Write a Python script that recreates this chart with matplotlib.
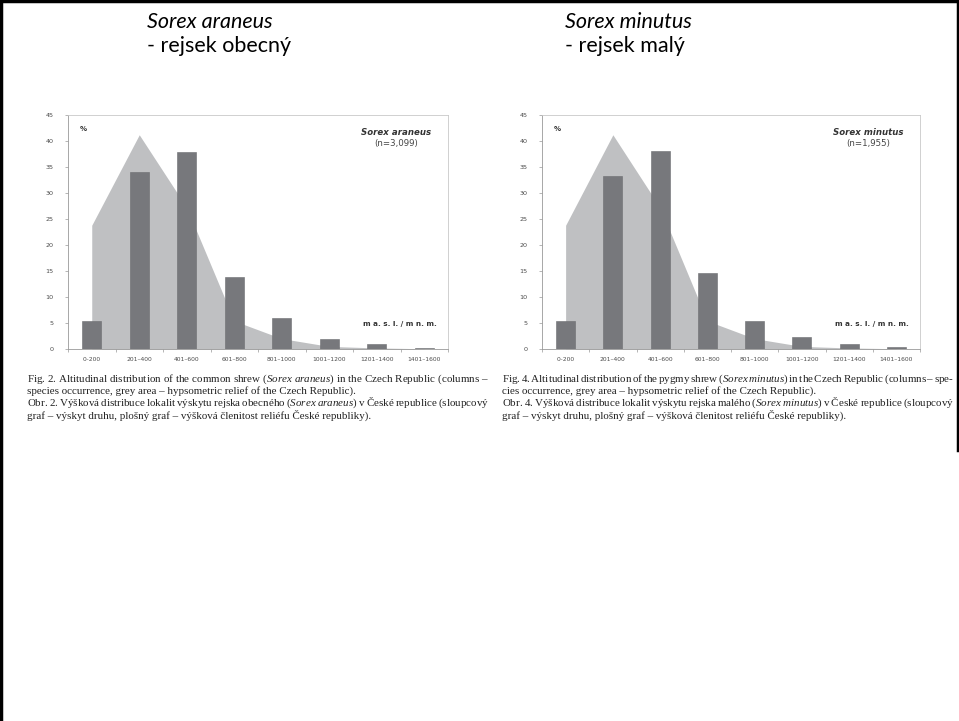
import matplotlib
matplotlib.use("Agg")
import matplotlib.pyplot as plt
from matplotlib.lines import Line2D
import numpy as np

plt.rcParams["mathtext.fontset"] = "custom"
plt.rcParams["mathtext.rm"] = "Liberation Serif"
plt.rcParams["mathtext.it"] = "Liberation Serif:italic"

categories = ["0–200", "201–400", "401–600", "601–800", "801–1000",
              "1001–1200", "1201–1400", "1401–1600"]
araneus_pct = [5.4, 34.0, 37.8, 13.9, 6.0, 1.9, 0.9, 0.2]
minutus_pct = [5.3, 33.2, 38.1, 14.6, 5.3, 2.3, 1.0, 0.4]
relief_pct = [23.8, 41.2, 27.2, 5.4, 2.0, 0.5, 0.2, 0.05]
yticks = list(range(0, 50, 5))

W, H = 959, 721
fig = plt.figure(figsize=(W / 100, H / 100), dpi=100)

BAR = "#77787c"
AREA = "#bfc0c2"
SPINE = "#c9c9c9"
TXT = "#4a4a4a"


def px(x, y):
    return x / W, 1 - y / H


def make_panel(left_px, right_px, values, species, n_label):
    x0, y0 = px(left_px, 349)
    x1, y1 = px(right_px, 115)
    ax = fig.add_axes([x0, y0, x1 - x0, y1 - y0])
    xs = np.arange(len(categories))
    ax.fill_between(xs, 0, relief_pct, color=AREA, lw=0, zorder=1)
    ax.bar(xs, values, width=0.4, color=BAR, edgecolor="#6c6d70", lw=0.4, zorder=2)
    ax.set_xlim(-0.5, len(categories) - 0.5)
    ax.set_ylim(0, 45)
    ax.set_yticks(yticks)
    ax.set_yticklabels([str(t) for t in yticks], fontsize=4.6, color=TXT)
    ax.set_xticks(xs)
    ax.set_xticklabels(categories, fontsize=4.3, color=TXT)
    ax.set_xticks(np.arange(len(categories) + 1) - 0.5, minor=True)
    ax.tick_params(axis="x", which="major", length=0, pad=6)
    ax.tick_params(axis="x", which="minor", length=2.5, color="#999999", width=0.5)
    ax.tick_params(axis="y", length=2.5, color="#999999", width=0.5, pad=8)
    for s in ["top", "right"]:
        ax.spines[s].set_color(SPINE)
        ax.spines[s].set_linewidth(0.6)
    for s in ["left", "bottom"]:
        ax.spines[s].set_color("#999999")
        ax.spines[s].set_linewidth(0.6)
    ax.text(0.03, 0.94, "%", transform=ax.transAxes, fontsize=5, color="#333333",
            fontweight="bold", va="center", ha="left")
    ax.text(0.863, 0.927, species, transform=ax.transAxes, fontsize=6.2,
            fontweight="bold", style="italic", color="#333333", ha="center", va="center")
    ax.text(0.863, 0.88, n_label, transform=ax.transAxes, fontsize=6.2,
            color="#444444", ha="center", va="center")
    ax.text(0.874, 0.107, "m a. s. l. / m n. m.", transform=ax.transAxes, fontsize=5.2,
            fontweight="bold", color="#333333", ha="center", va="center")
    return ax


make_panel(68, 448, araneus_pct, "Sorex araneus", "(n=3,099)")
make_panel(542, 920, minutus_pct, "Sorex minutus", "(n=1,955)")

# slide titles
TF = "Lato"
TS = 15.5
fig.text(*px(147, 22), "Sorex araneus", fontsize=TS, family=TF, style="italic", va="center")
fig.text(*px(147, 46), "- rejsek obecný", fontsize=TS, family=TF, va="center")
fig.text(*px(565, 22), "Sorex minutus", fontsize=TS, family=TF, style="italic", va="center")
fig.text(*px(565, 46), "- rejsek malý", fontsize=TS, family=TF, va="center")

# captions (single text per line; italic species names via mathtext)
renderer = fig.canvas.get_renderer()
CF = "Liberation Serif"
CS = 7.9


def build(parts, space):
    out = []
    for txt, it in parts:
        words = txt.split(" ")
        segs = []
        for w in words:
            if it and w:
                segs.append(r"$\mathit{" + w + "}$")
            else:
                segs.append(w)
        out.append(space.join(segs))
    return "".join(out)


def measure(s):
    t = fig.text(0, 0, s, fontsize=CS, family=CF)
    w = t.get_window_extent(renderer=renderer).width
    t.remove()
    return w


def draw_line(x_px, y_px, parts, target=None):
    if target is None:
        s = build(parts, " ")
        if "$" not in s:
            pass
    else:
        n_sp = sum(t.count(" ") for t, _ in parts)
        a, b = 0.2, 1.0
        wa = measure(build(parts, r"$\hspace{%g}$" % a))
        wb = measure(build(parts, r"$\hspace{%g}$" % b))
        unit = (wb - wa) / (b - a)
        x = a + (target - wa) / unit
        s = build(parts, r"$\hspace{%.4f}$" % x)
    fig.text(*px(x_px, y_px), s, fontsize=CS, family=CF, va="center", ha="left",
             color="#222222")


left_caption = [
    [("Fig. 2. Altitudinal distribution of the common shrew (", False), ("Sorex araneus", True),
     (") in the Czech Republic (columns –", False)],
    [("species occurrence, grey area – hypsometric relief of the Czech Republic).", False)],
    [("Obr. 2. Výšková distribuce lokalit výskytu rejska obecného (", False), ("Sorex araneus", True),
     (") v České republice (sloupcový", False)],
    [("graf – výskyt druhu, plošný graf – výšková členitost reliéfu České republiky).", False)],
]
right_caption = [
    [("Fig. 4. Altitudinal distribution of the pygmy shrew (", False), ("Sorex minutus", True),
     (") in the Czech Republic (columns – spe-", False)],
    [("cies occurrence, grey area – hypsometric relief of the Czech Republic).", False)],
    [("Obr. 4. Výšková distribuce lokalit výskytu rejska malého (", False), ("Sorex minutus", True),
     (") v České republice (sloupcový", False)],
    [("graf – výskyt druhu, plošný graf – výšková členitost reliéfu České republiky).", False)],
]
justify = [True, False, True, False]
for i, line in enumerate(left_caption):
    draw_line(27, 379 + 12 * i, line, 462 if justify[i] else None)
for i, line in enumerate(right_caption):
    draw_line(502, 379 + 12 * i, line, 452 if justify[i] else None)

# slide border
fig.add_artist(Line2D([0.5 / W, 0.5 / W], [0, 1], color="black", lw=2.5, transform=fig.transFigure))
fig.add_artist(Line2D([0, 1], [1 - 1 / H, 1 - 1 / H], color="black", lw=2.5, transform=fig.transFigure))
fig.add_artist(Line2D([1 - 1.5 / W, 1 - 1.5 / W], [1, 1 - 450 / H], color="black", lw=2.5,
                      transform=fig.transFigure))

fig.savefig("out.png", dpi=100)
